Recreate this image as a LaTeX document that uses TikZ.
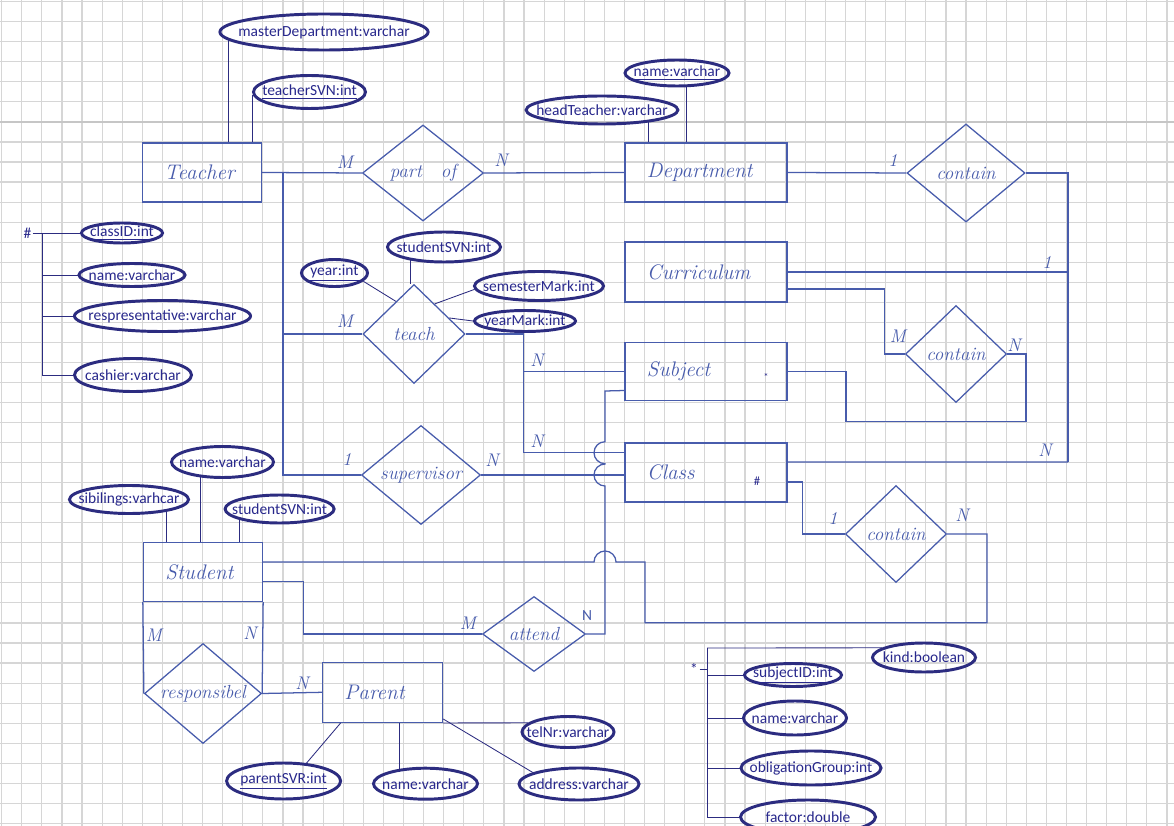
\documentclass[tikz,border=0pt]{standalone}
\usepackage{fontspec}
\newfontfamily\typedfont{Carlito}
\usetikzlibrary{shapes.geometric,positioning,calc}

\definecolor{inkblue}{RGB}{72,92,172}
\definecolor{ovalblue}{RGB}{44,44,128}
\definecolor{typeblue}{RGB}{40,40,140}
\definecolor{gridgray}{RGB}{214,214,214}

\begin{document}
\begin{tikzpicture}[
    x=0.025cm, y=-0.025cm,
    entity/.style={rectangle, draw=inkblue, line width=0.9pt, minimum height=1.475cm, inner xsep=0.55cm, align=left, text=inkblue, font=\fontsize{15}{18}\selectfont\itshape},
    relation/.style={diamond, draw=inkblue, line width=0.9pt, inner sep=0pt, aspect=1.2, text=inkblue, font=\fontsize{13.5}{16}\selectfont\itshape},
    attr/.style={ellipse, draw=ovalblue, line width=2.1pt, inner xsep=-0.3cm, inner ysep=0pt, text=typeblue, font=\typedfont\fontsize{11}{13}\selectfont},
    card/.style={inner sep=0pt, text=inkblue, font=\fontsize{13}{13}\selectfont\itshape},
    marker/.style={inner sep=1pt, text=typeblue, font=\typedfont\fontsize{11}{13}\selectfont},
    link/.style={draw=inkblue, line width=0.9pt},
    attrlink/.style={draw=ovalblue, line width=0.6pt}
]

% grid paper
\useasboundingbox (0,0) rectangle (1174,826);
\fill[white] (0,0) rectangle (1174,826);
\foreach \i in {0,...,58}
  \draw[gridgray, line width=0.8pt] ({1.7+\i*20.09},0) -- ({1.7+\i*20.09},826);
\foreach \j in {0,...,41}
  \draw[gridgray, line width=0.8pt] (0,{1.7+\j*20.04}) -- (1174,{1.7+\j*20.04});
\draw[gray!45, line width=0.9pt] (0,121.9) -- (1174,121.9);

% entities
\node[entity, text width=1.875cm] (teacher) at (202,172.5) {Teacher};
\node[entity, text width=2.95cm] (department) at (706,172.5) {Department};
\node[entity, text width=2.95cm, minimum height=1.5cm] (curriculum) at (706,272) {Curriculum};
\node[entity, text width=2.95cm, minimum height=1.45cm] (subject) at (706,371.5) {Subject};
\node[entity, text width=2.95cm] (class) at (706,472.5) {Class};
\node[entity, text width=1.875cm] (student) at (203,572) {Student};
\node[entity, text width=1.9cm, minimum height=1.5cm] (parent) at (382.5,692.3) {Parent};

% relationships
\node[relation, minimum width=3.025cm, minimum height=2.4cm] (partof) at (423,173) {part\quad of};
\node[relation, minimum width=2.55cm, minimum height=2.475cm] (teach) at (414,334) {teach};
\node[relation, minimum width=2.975cm, minimum height=2.475cm] (supervisor) at (421,475) {supervisor};
\node[relation, minimum width=2.95cm, minimum height=2.45cm] (containdept) at (966,173) {contain};
\node[relation, minimum width=2.525cm, minimum height=2.425cm] (containcurr) at (956,354) {contain};
\node[relation, minimum width=2.525cm, minimum height=2.425cm] (containclass) at (896,534) {contain};
\node[relation, minimum width=2.575cm, minimum height=1.875cm] (attend) at (534,634) {attend};
\node[relation, minimum width=2.925cm, minimum height=2.5cm] (responsibel) at (203,693.5) {responsibel};

% attributes
\node[attr, minimum width=5.125cm, minimum height=0.9cm] (masterdept) at (324,32) {masterDepartment:varchar};
\node[attr, minimum width=2.8cm, minimum height=0.825cm] (teachersvn) at (309.5,92) {\underline{teacherSVN:int}};
\node[attr, minimum width=3.675cm, minimum height=0.7cm] (headteacher) at (602,110) {headTeacher:varchar};
\node[attr, minimum width=2.6cm, minimum height=0.65cm] (deptname) at (677,73) {\underline{name:varchar}};
\node[attr, minimum width=2.825cm, minimum height=0.75cm] (svnteach) at (444,247) {studentSVN:int};
\node[attr, minimum width=1.65cm, minimum height=0.675cm] (yearattr) at (334.5,273) {\underline{year:int}};
\node[attr, minimum width=3.225cm, minimum height=0.725cm] (semmark) at (539,286) {semesterMark:int};
\node[attr, minimum width=2.525cm, minimum height=0.525cm] (yearmark) at (525,321) {yearMark:int};
\node[attr, minimum width=2.975cm, minimum height=0.7cm] (sibilings) at (129,499.5) {sibilings:varhcar};
\node[attr, minimum width=2.55cm, minimum height=0.775cm] (studname) at (222.5,462) {name:varchar};
\node[attr, minimum width=2.725cm, minimum height=0.7cm] (svnstudent) at (279.6,509) {studentSVN:int};
\node[attr, minimum width=2.85cm, minimum height=0.9cm] (parentsvr) at (283.6,781) {\underline{parentSVR:int}};
\node[attr, minimum width=2.6cm, minimum height=0.775cm] (parentname) at (425.5,783.7) {name:varchar};
\node[attr, minimum width=2.3cm, minimum height=0.775cm] (telnr) at (568,732) {telNr:varchar};
\node[attr, minimum width=3cm, minimum height=0.8cm] (address) at (579,784) {address:varchar};

% class attribute list
\node[marker] (classmark) at (27.4,233) {\#};
\coordinate (classlist) at (42,233);
\node[attr, minimum width=2.025cm, minimum height=0.5cm] (classid) at (122,233) {\underline{classID:int}};
\node[attr, minimum width=2.65cm, minimum height=0.575cm] (classname) at (132,275) {name:varchar};
\node[attr, minimum width=4.4cm, minimum height=0.775cm] (representative) at (162.5,316) {respresentative:varchar};
\node[attr, minimum width=2.925cm, minimum height=0.825cm] (cashier) at (133,375) {cashier:varchar};

% subject attribute list
\node[marker] (subjmark) at (694,669) {*};
\coordinate (subjlist) at (707,648);
\node[attr, minimum width=2.575cm, minimum height=0.725cm] (kind) at (924,657.5) {kind:boolean};
\node[attr, minimum width=2.425cm, minimum height=0.575cm] (subjid) at (793,675) {\underline{subjectID:int}};
\node[attr, minimum width=2.575cm, minimum height=0.85cm] (subjname) at (795,718) {name:varchar};
\node[attr, minimum width=3.5cm, minimum height=0.85cm] (obligation) at (811,768) {obligationGroup:int};
\node[attr, minimum width=3.375cm, minimum height=0.85cm] (factor) at (808,817) {factor:double};

\node[marker, font=\typedfont\fontsize{9}{9}\selectfont] (classhash) at (757,481) {\#};
\node[marker, font=\typedfont\fontsize{7}{7}\selectfont] (subjstar) at (766,377) {*};

% attribute lines
\draw[attrlink] (masterdept.185) -- (masterdept.185 |- teacher.north);
\draw[attrlink] (teachersvn.183) -- (teachersvn.183 |- teacher.north);
\draw[attrlink] (headteacher.345) -- (headteacher.345 |- department.north);
\draw[attrlink] (deptname.302) -- (deptname.302 |- department.north);
\draw[attrlink] (svnteach.202) -- (svnteach.202 |- teach.north);
\draw[attrlink] (yearattr.344) -- ($(teach.west)!0.65!(teach.north)$);
\draw[attrlink] (semmark.183) -- ($(teach.north)!0.4!(teach.east)$);
\draw[attrlink] ($(teach.north)!0.68!(teach.east)$) -- (yearmark.west);
\draw[attrlink] (sibilings.342) -- (sibilings.342 |- student.north);
\draw[attrlink] (studname.215) -- (studname.215 |- student.north);
\draw[attrlink] (svnstudent.195) -- (svnstudent.195 |- student.north);
\draw[attrlink] ($(parent.south west)!0.155!(parent.south east)$) -- (parentsvr.38);
\draw[attrlink] (parentname.150) -- (parentname.150 |- parent.south);
\draw[attrlink] (parent.south east) -- (telnr.167);
\draw[attrlink] ([yshift=0.1cm]parent.south east) -- (address.166);

\draw[attrlink] (classmark) -- (classid);
\draw[attrlink] (classlist) |- (cashier.west);
\draw[attrlink] (classlist |- classname.west) -- (classname.west);
\draw[attrlink] (classlist |- representative.west) -- (representative.west);

\draw[attrlink] (subjlist) -- (kind.167);
\draw[attrlink] (subjlist) |- (factor.west);
\draw[attrlink] (subjmark.east) -- (subjmark.east -| subjlist);
\draw[attrlink] (subjlist |- subjid.west) -- (subjid.west);
\draw[attrlink] (subjlist |- subjname.west) -- (subjname.west);
\draw[attrlink] (subjlist |- obligation.west) -- (obligation.west);

% relationship lines
\coordinate (teacherbus) at (283,173);
\draw[link] (teacher.east) -- (partof.west);
\draw[link] (teacherbus) |- (supervisor.west);
\draw[link] (teacherbus |- teach.west) -- (teach.west);
\draw[link] (partof.east) -- (department.west);
\draw[link] (department.east) -- (containdept.west);

\coordinate (deptbus) at (1068,462);
\draw[link] (containdept.east) -| (deptbus);
\draw[link] (curriculum.east) -- (curriculum.east -| deptbus);
\draw[link] ([yshift=0.26cm]class.east) -- (deptbus);

\draw[link] ([yshift=-0.425cm]curriculum.east) -| ([xshift=-0.5cm]containcurr.west) -- (containcurr.west);
\coordinate (currloop) at (1026,421.7);
\coordinate (subjhook) at (846,421.7);
\draw[link] (containcurr.east) -| (currloop) -- (subjhook) |- (subject.east);

\coordinate (teachbus) at (523.3,452.7);
\draw[link] (teach.east) -| (teachbus) -- (teachbus -| class.west);
\draw[link] (teachbus |- subject.west) -- (subject.west);
\draw[link] (supervisor.east) -- (supervisor.east -| class.west);

% line from Subject to attend, hopping over two lines
\coordinate (hopbus) at (605,391);
\coordinate (attendbus) at (605,634);
\coordinate (hopA) at ($(hopbus |- teachbus)+(0,-11)$);
\coordinate (hopB) at ($(hopbus |- supervisor.east)+(0,-11)$);
\draw[link] ([yshift=-0.475cm]subject.west) -- (hopbus) -- (hopA)
  arc[start angle=90, end angle=270, radius=0.275cm] -- (hopB)
  arc[start angle=90, end angle=270, radius=0.275cm] -- (attendbus) -- (attend.east);

% line from Student to contain (Class)
\coordinate (studline) at ([yshift=0.25cm]student.east);
\coordinate (hopC) at ($(hopbus |- studline)+(11,0)$);
\coordinate (classloopA) at (645,622.7);
\coordinate (classloopB) at (987,622.7);
\draw[link] (containclass.east) -| (classloopB) -- (classloopA) |- (hopC)
  arc[start angle=0, end angle=180, radius=0.275cm] -- (studline);
\draw[link] ([yshift=-0.24cm]class.east) -| ([xshift=-1.05cm]containclass.west) -- (containclass.west);

\coordinate (attendcorner) at (303.4,634);
\draw[link] ([yshift=-0.24cm]student.east) -| (attendcorner) -- (attend.west);
\draw[link] (student.south west) -- (responsibel.west);
\draw[link] (student.south east) -- (responsibel.east);
\draw[link] (responsibel.east) -- (parent.west);

% cardinalities
\node[card] (mpartof) at (345,162) {M};
\node[card] (npartof) at (501,160) {N};
\node[card] (onedept) at (893,160) {1};
\node[card] (onecurr) at (1047,262) {1};
\node[card] (mteach) at (345,321) {M};
\node[card] (nteachsubj) at (537,360) {N};
\node[card] (nteachclass) at (537,441) {N};
\node[card] (onesuper) at (347,459) {1};
\node[card] (nsuper) at (492,460) {N};
\node[card] (mcurr) at (898,336) {M};
\node[card] (ncurr) at (1014,345) {N};
\node[card] (ndeptclass) at (1045,450) {N};
\node[card] (oneclass) at (833,518) {1};
\node[card] (nclass) at (962,515) {N};
\node[card] (mattend) at (468,623) {M};
\node[marker, text=inkblue] (nattend) at (587,616) {N};
\node[card] (mresp) at (154,635) {M};
\node[card] (nresp) at (250,633) {N};
\node[card] (nparent) at (302,683) {N};

\end{tikzpicture}
\end{document}
